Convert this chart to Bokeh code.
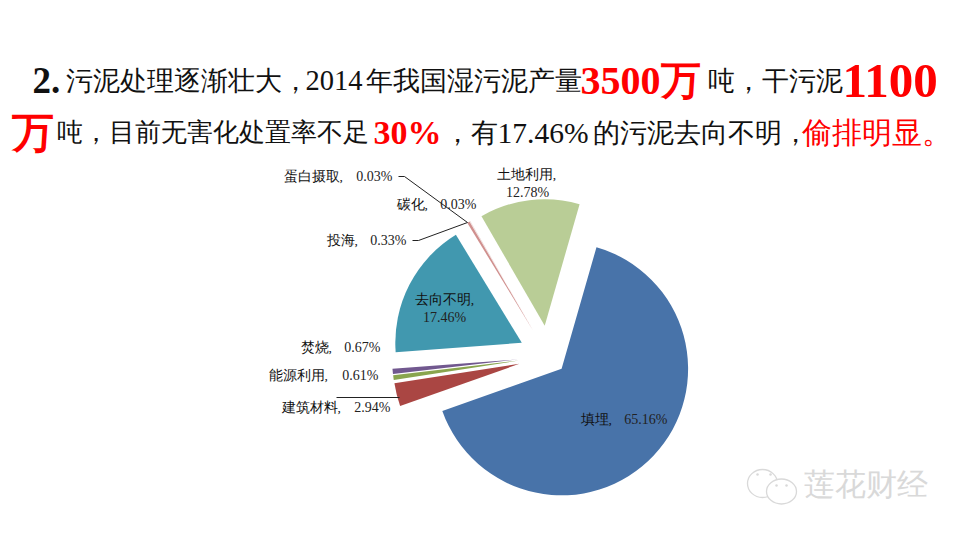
from math import radians
import math
from bokeh.plotting import figure
from bokeh.models import Range1d, ColumnDataSource
from bokeh.embed import file_html
from bokeh.resources import INLINE

# ---- data
categories = ["填埋", "建筑材料", "能源利用", "焚烧", "去向不明", "投海", "碳化", "蛋白摄取", "土地利用"]
shares = [65.16, 2.94, 0.61, 0.67, 17.46, 0.33, 0.03, 0.03, 12.78]

# ---- styling / layout (not data)
colors = ["#4873A9", "#AA4643", "#89A54E", "#71588F", "#4198AF", "#D0908E", "#D9A9A7", "#D9B9B7", "#B9CD96"]
explode = [18, 30, 30, 30, 30, 30, 30, 30, 31]
CX, CY, R = 548, 533 - 356, 126.5
START_CW = 16.0
name_x = [580, 281, 268, 300, 444, 326, 396, 283, 526]
name_y = [419, 407, 375, 347, 299, 240, 204, 176, 174]
name_align = ["left", "left", "left", "left", "center", "left", "left", "left", "center"]
value_x = [667, 390, 378, 380, 444, 406, 476, 392, 527]
value_y = [419, 407, 375, 347, 317, 240, 204, 176, 192]
value_align = ["right", "right", "right", "right", "center", "right", "right", "right", "center"]

LABEL_FONT = "Noto Sans CJK SC"
TITLE_FONT = "Noto Sans CJK SC"

# text, x, baseline y, size, bold, colour
title_runs = [
    ("2.", 32, 80, 37, True, "#111111"),
    ("污泥处理逐渐壮大，", 65, 80, 26.7, False, "#111111"),
    ("2014", 305, 80, 28.5, False, "#111111"),
    ("年我国湿污泥产量", 365, 80, 26.7, False, "#111111"),
    ("3500万", 580, 80, 40, True, "#FF0000"),
    ("吨，干污泥", 707, 80, 26.7, False, "#111111"),
    ("1100", 842, 80, 49, True, "#FF0000"),
    ("万", 11, 132, 42, True, "#FF0000"),
    ("吨，目前无害化处置率不足", 56, 132, 26.3, False, "#111111"),
    ("30%", 373, 132, 34, True, "#FF0000"),
    ("，有", 443, 132, 26.5, False, "#111111"),
    ("17.46%", 497, 132, 29.5, False, "#111111"),
    ("的污泥去向不明，", 592, 132, 26.5, False, "#111111"),
    ("偷排明显。", 801, 132, 30, False, "#FF0000"),
]

p = figure(width=952, height=525, output_backend="svg", toolbar_location=None,
           x_range=Range1d(0, 952), y_range=Range1d(8, 533), min_border=0,
           outline_line_color=None, background_fill_color="white", border_fill_color="white")
p.axis.visible = False
p.grid.visible = False

# pie
total = sum(shares)
xs, ys, starts, ends = [], [], [], []
cw = START_CW
for s, e in zip(shares, explode):
    sweep = 360.0 * s / total
    mid = radians(cw + sweep / 2)
    xs.append(CX + e * math.sin(mid))
    ys.append(CY + e * math.cos(mid))
    starts.append(radians(90 - (cw + sweep)))
    ends.append(radians(90 - cw))
    cw += sweep
p.wedge(x=xs, y=ys, radius=R, start_angle=starts, end_angle=ends, direction="anticlock",
        fill_color=colors, line_color=None)

# leader lines
leaders = [
    ([398, 404, 467], [176, 176, 222]),
    ([412, 418, 467], [240, 240, 222]),
    ([336, 399], [397, 397]),
]
for lx, ly in leaders:
    p.line(lx, [533 - v for v in ly], line_color="#222222", line_width=1)

# data labels: category name and share
names = ColumnDataSource(dict(x=name_x, y=[533 - v for v in name_y], t=[f"{c}," for c in categories], a=name_align))
p.text(x="x", y="y", text="t", source=names, text_align="a", text_baseline="middle",
       text_font=LABEL_FONT, text_font_size="13.5px", text_color="#111111")
values = ColumnDataSource(dict(x=value_x, y=[533 - v for v in value_y], t=[f"{s:.2f}%" for s in shares], a=value_align))
p.text(x="x", y="y", text="t", source=values, text_align="a", text_baseline="middle",
       text_font=LABEL_FONT, text_font_size="14px", text_color="#222222")

# headline
for t, x, y, size, bold, col in title_runs:
    p.text(x=[x], y=[533 - y], text=[t], text_align="left", text_baseline="alphabetic",
           text_font=TITLE_FONT, text_font_size=f"{size}px",
           text_font_style="bold" if bold else "normal", text_color=col)

# watermark
WM = "#D9D9D9"
p.ellipse(x=[762], y=[533 - 483], width=[30], height=[28], fill_color="white", line_color=WM, line_width=1.3)
p.ellipse(x=[781], y=[533 - 491], width=[30], height=[25], fill_color="white", line_color=WM, line_width=1.3)
p.scatter(x=[757, 770, 776, 786], y=[533 - 474, 533 - 474, 533 - 485, 533 - 485], size=2.5,
          color=WM, line_color=None)
p.text(x=[803], y=[533 - 484], text=["莲花财经"], text_align="left", text_baseline="middle",
       text_font=TITLE_FONT, text_font_size="31px", text_color=WM, text_font_style="normal")

open("out.html", "w").write(file_html(p, INLINE))
